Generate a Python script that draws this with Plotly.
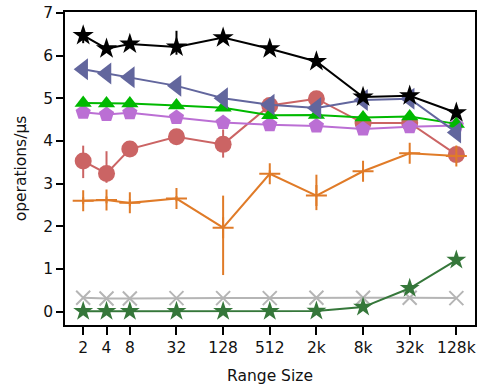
import plotly.graph_objects as go
import math

range_sizes = [2, 4, 8, 32, 128, 512, 2048, 8192, 32768, 131072]
tick_labels = ["2", "4", "8", "32", "128", "512", "2k", "8k", "32k", "128k"]

black_vals = [6.47, 6.16, 6.27, 6.20, 6.42, 6.16, 5.86, 5.03, 5.06, 4.66]
black_err_up = [0.18, 0.10, 0.06, 0.38, 0.05, 0.04, 0.03, 0.03, 0.03, 0.03]
black_err_dn = [0.18, 0.10, 0.06, 0.18, 0.05, 0.04, 0.03, 0.03, 0.03, 0.03]

slate_vals = [5.68, 5.58, 5.49, 5.29, 5.00, 4.85, 4.77, 4.96, 4.99, 4.20]
green_vals = [4.89, 4.88, 4.88, 4.83, 4.78, 4.60, 4.61, 4.55, 4.57, 4.40]
purple_vals = [4.67, 4.62, 4.66, 4.55, 4.43, 4.38, 4.35, 4.28, 4.33, 4.36]

red_vals = [3.53, 3.24, 3.81, 4.10, 3.92, 4.83, 4.99, 4.42, 4.42, 3.68]
red_err_up = [0.36, 0.52, 0.05, 0.05, 0.35, 0.04, 0.04, 0.04, 0.04, 0.04]
red_err_dn = [0.40, 0.22, 0.05, 0.05, 0.31, 0.04, 0.04, 0.04, 0.04, 0.04]

orange_vals = [2.60, 2.62, 2.55, 2.65, 1.97, 3.23, 2.72, 3.29, 3.71, 3.65]
orange_err_up = [0.08, 0.08, 0.08, 0.06, 0.75, 0.08, 0.49, 0.06, 0.04, 0.04]
orange_err_dn = [0.08, 0.08, 0.08, 0.06, 1.11, 0.08, 0.34, 0.06, 0.04, 0.04]

gray_vals = [0.33, 0.31, 0.31, 0.32, 0.32, 0.32, 0.33, 0.33, 0.33, 0.32]
darkgreen_vals = [0.01, 0.01, 0.01, 0.01, 0.01, 0.01, 0.02, 0.11, 0.55, 1.21]

fig = go.Figure()


def add_series(vals, color, symbol, size, err_up=None, err_dn=None, open_marker=False):
    marker = dict(symbol=symbol, size=size, color=color)
    if open_marker:
        marker["line"] = dict(color=color, width=2)
    else:
        marker["line"] = dict(width=0)
    kw = {}
    if err_up is not None:
        kw["error_y"] = dict(type="data", symmetric=False, array=err_up,
                             arrayminus=err_dn, color=color, thickness=2, width=0)
    fig.add_trace(go.Scatter(x=range_sizes, y=vals, mode="lines+markers",
                             line=dict(color=color, width=2), marker=marker,
                             showlegend=False, **kw))


add_series(red_vals, "#cb6464", "circle", 17, red_err_up, red_err_dn)
add_series(orange_vals, "#e07b28", "cross-thin", 15, orange_err_up, orange_err_dn, open_marker=True)
add_series(purple_vals, "#bb6fd4", "pentagon", 16)
add_series(green_vals, "#00b900", "triangle-up", 15)
add_series(slate_vals, "#62669d", "triangle-left", 19)
add_series(black_vals, "#000000", "star", 16, black_err_up, black_err_dn)
add_series(gray_vals, "#b5b5b5", "x-thin", 14, open_marker=True)
add_series(darkgreen_vals, "#35773a", "star", 15)

font = dict(family="DejaVu Sans", size=15.5, color="#111111")

fig.update_layout(
    width=495, height=391,
    margin=dict(l=65, r=20, t=12, b=66),
    plot_bgcolor="white", paper_bgcolor="white",
    font=font,
    xaxis=dict(
        type="log", automargin=False,
        range=[math.log10(2) * 0.22, math.log10(2) * 17.8],
        tickvals=range_sizes, ticktext=tick_labels,
        showgrid=False, zeroline=False,
        showline=True, linecolor="black", linewidth=1.5, mirror=True,
        ticks="outside", ticklen=8, tickwidth=1.5, tickcolor="black",
        title=dict(text="Range Size", font=font, standoff=14),
        tickfont=font,
    ),
    yaxis=dict(
        automargin=False,
        range=[-0.31, 7.02],
        tickvals=[0, 1, 2, 3, 4, 5, 6, 7],
        showgrid=False, zeroline=False,
        showline=True, linecolor="black", linewidth=1.5, mirror=True,
        ticks="outside", ticklen=7, tickwidth=1.5, tickcolor="black",
        title=dict(text="operations/μs", font=font, standoff=13),
        tickfont=font,
    ),
)

fig.write_html("out.html")
